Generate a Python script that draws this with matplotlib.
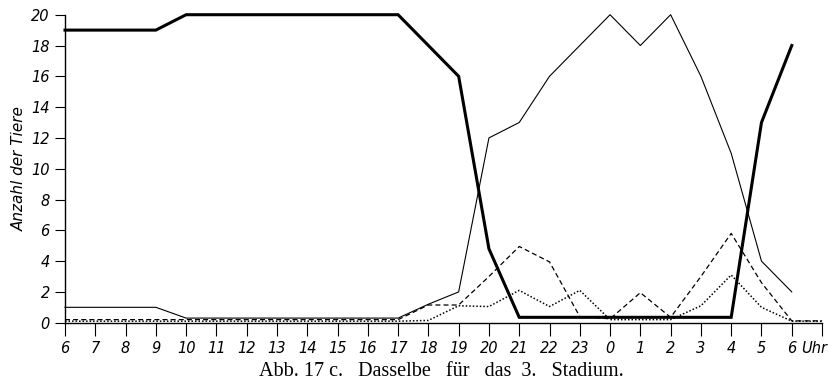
import matplotlib.pyplot as plt

# hours from 6 Uhr to 6 Uhr next morning
hours = [6, 7, 8, 9, 10, 11, 12, 13, 14, 15, 16, 17, 18, 19, 20, 21, 22, 23,
         0, 1, 2, 3, 4, 5, 6]
hour_labels = [str(h) for h in hours]

# animal counts (index positions 0..24, dotted/dashed run on to 25)
thick = [19, 19, 19, 19, 20, 20, 20, 20, 20, 20, 20, 20, 18, 16, 4.8, 0.35,
         0.35, 0.35, 0.35, 0.35, 0.35, 0.35, 0.35, 13, 18]
thin = [1, 1, 1, 1, 0.3, 0.3, 0.3, 0.3, 0.3, 0.3, 0.3, 0.3, 1.2, 2, 12, 13,
        16, 18, 20, 18, 20, 16, 11, 4, 2]
dashed = [0.2, 0.2, 0.2, 0.2, 0.2, 0.2, 0.2, 0.2, 0.2, 0.2, 0.2, 0.2, 1.15,
          1.15, 3.0, 4.95, 3.95, 0.4, 0.25, 1.95, 0.35, 3.0, 5.8, 2.6, 0.12, 0.12]
dotted = [0.1, 0.1, 0.1, 0.1, 0.1, 0.1, 0.1, 0.1, 0.1, 0.1, 0.1, 0.1, 0.15,
          1.1, 1.05, 2.1, 1.05, 2.1, 0.2, 0.2, 0.2, 1.1, 3.1, 1.0, 0.1, 0.1]

tick_font = dict(family="DejaVu Sans", style="italic", size=10.5)

fig = plt.figure(figsize=(8.29, 3.82), dpi=100)
ax = fig.add_axes([0.0784, 0.1552, 0.9132, 0.8063])

x24 = list(range(len(thick)))
x25 = list(range(len(dashed)))
ax.plot(x24, thick, color="black", lw=2.2, clip_on=False, solid_joinstyle="miter")
ax.plot(x24, thin, color="black", lw=0.8, clip_on=False)
ax.plot(x25, dashed, color="black", lw=0.9, ls=(0, (4, 2.5)), clip_on=False)
ax.plot(x25, dotted, color="black", lw=1.1, ls=(0, (1, 1.3)), clip_on=False)

ax.set_xlim(0, 25)
ax.set_ylim(0, 20)
for s in ["top", "right"]:
    ax.spines[s].set_visible(False)
ax.spines["left"].set_linewidth(1.0)
ax.spines["bottom"].set_linewidth(1.0)

ax.set_xticks(list(range(26)))
ax.set_xticklabels(hour_labels + [""], fontdict=tick_font)
ax.tick_params(axis="x", direction="out", length=9, width=0.8, pad=4)
ax.set_yticks(list(range(0, 21, 2)))
ax.set_yticklabels([str(v) for v in range(0, 21, 2)], fontdict=tick_font)
ax.tick_params(axis="y", direction="out", length=7, width=0.8, pad=4)

ax.text(24.3, -1.7, "Uhr", ha="left", va="center", **tick_font)
ax.set_ylabel("Anzahl der Tiere", family="DejaVu Sans", style="italic",
              size=11, labelpad=3)

fig.text(0.533, 0.0144, "Abb. 17 c.   Dasselbe   für   das  3.   Stadium.",
         ha="center", va="baseline", family="Liberation Serif", size=14.5)

fig.savefig("out.png", dpi=100)
